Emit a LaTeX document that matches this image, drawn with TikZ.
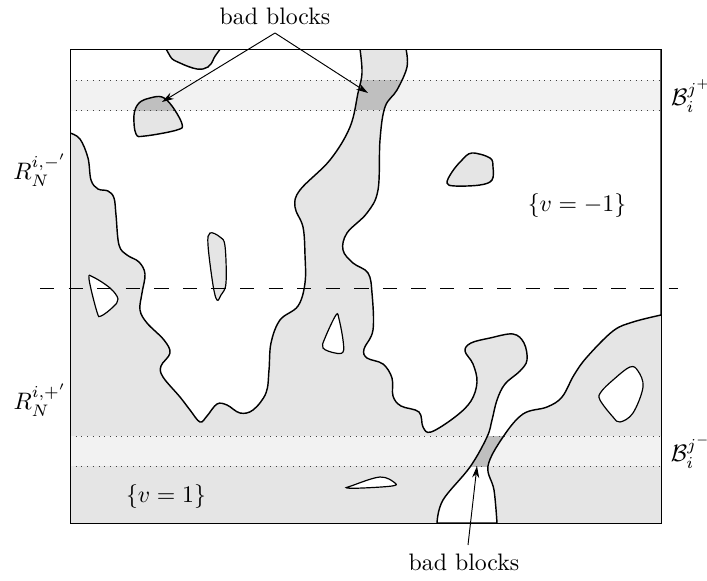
\documentclass[tikz,border=0pt]{standalone}
\usetikzlibrary{arrows.meta}
\definecolor{lg}{HTML}{E5E5E5}
\definecolor{bandc}{HTML}{F2F2F2}
\definecolor{badc}{HTML}{BFBFBF}
\begin{document}
\begin{tikzpicture}[x=0.42pt,y=-0.42pt,
  curve/.style={line width=0.6pt},
  sm/.style={smooth,tension=0.6},
  dotline/.style={black!75,line width=0.4pt,dotted},
  arr/.style={-{Stealth[length=5pt,width=3pt]},line width=0.4pt},
  lbl/.style={inner sep=1pt}]
\useasboundingbox (0,0) rectangle (707,580);
\begin{scope}
\clip (70,49) rectangle (661,523);
\fill[lg] (70,49) rectangle (661,523);
% white region W1
\fill[white,save path=\pWone] (70,49) -- (360,49) -- plot[sm] coordinates {(360,49) (362,73) (358,93) (350,127) (330,160) (300,190) (295,207) (303,227) (305,255) (305,283) (298,306) (280,320) (271,343) (269,370) (266,393) (253,410) (240,413) (227,405) (217,404) (207,416) (200,422) (190,410) (180,397) (163,377) (161,366) (170,353) (164,340) (147,323) (140,310) (142,293) (145,274) (139,262) (127,255) (119,245) (116,215) (114,198) (108,191) (98,189) (91,180) (88,158) (80,139) (70,133)} -- cycle;
% white region W2
\fill[white,save path=\pWtwo] (406,49) -- (661,49) -- (661,315) -- plot[sm] coordinates {(661,315) (633,322) (613,331) (587,357) (574,375) (562,397) (547,407) (523,414) (503,437) (488,466) (494,490) (497,523)} -- (437,523) -- plot[sm] coordinates {(437,523) (443,500) (470,467) (487,437) (492,420) (497,400) (505,384) (520,371) (527,360) (524,343) (513,334) (490,338) (471,343) (465,351) (473,364) (477,382) (471,401) (455,417) (431,432) (423,427) (419,412) (401,406) (393,396) (392,378) (383,364) (367,358) (364,349) (373,330) (372,293) (368,273) (353,263) (343,250) (347,233) (367,213) (378,190) (380,140) (385,107) (397,90) (407,67) (406,49)} -- cycle;
% gray islands
\fill[lg,save path=\pGa] plot[smooth cycle,tension=0.6] coordinates {(168,38) (170,56) (180,63) (197,69) (208,67) (214,58) (221,38)};
\fill[lg,save path=\pGb] plot[smooth cycle,tension=0.6] coordinates {(150,98) (162,97) (172,106) (182,124) (177,130) (145,136) (136,134) (134,115) (139,103)};
\fill[lg,save path=\pGc] plot[smooth cycle,tension=0.6] coordinates {(472,153) (490,158) (493,167) (492,180) (480,185) (455,186) (447,183) (452,172) (462,160)};
\fill[lg,save path=\pGd] plot[smooth cycle,tension=0.6] coordinates {(210,233) (220,237) (225,246) (226,283) (221,295) (217,300) (213,285) (208,245)};
% white holes
\fill[white,save path=\pHa] plot[smooth cycle,tension=0.6] coordinates {(89,279) (93,277) (110,288) (118,299) (113,307) (101,316) (97,312)};
\fill[white,save path=\pHb] plot[smooth cycle,tension=0.6] coordinates {(336,315) (339,319) (343,340) (343,352) (335,353) (323,348) (325,338)};
\fill[white,save path=\pHc] plot[smooth cycle,tension=0.6] coordinates {(630,367) (638,371) (643,387) (633,413) (620,422) (613,417) (600,400) (601,392) (613,380)};
\fill[white,save path=\pHd] plot[smooth cycle,tension=0.6] coordinates {(347,488) (351,486) (380,477) (395,483) (392,486) (363,488)};
% bands
\fill[bandc] (70,80) rectangle (661,110);
\fill[bandc] (70,436) rectangle (661,466);
% bad blocks
\fill[badc] (330,80) rectangle (420,110);
\begin{scope}
\clip (70,80) rectangle (661,110);
\fill[bandc,use path=\pWone];
\fill[bandc,use path=\pWtwo];
\fill[badc,use path=\pGb];
\end{scope}
\begin{scope}
\clip (460,436) rectangle (515,466);
\fill[badc,use path=\pWtwo];
\end{scope}
% dotted band limits
\draw[dotline] (70,80) -- (661,80);
\draw[dotline] (70,110) -- (661,110);
\draw[dotline] (70,436) -- (661,436);
\draw[dotline] (70,466) -- (661,466);
% outlines
\draw[curve,use path=\pWone];
\draw[curve,use path=\pWtwo];
\draw[curve,use path=\pGa];
\draw[curve,use path=\pGb];
\draw[curve,use path=\pGc];
\draw[line width=0.5pt,use path=\pGd];
\draw[line width=0.5pt,use path=\pHa];
\draw[line width=0.5pt,use path=\pHb];
\draw[line width=0.5pt,use path=\pHc];
\draw[line width=0.5pt,use path=\pHd];
\end{scope}
% frame
\draw[line width=0.4pt] (70,49) rectangle (661,523);
% dashed line
\coordinate (dl) at (40,288);
\coordinate (dr) at (678,288);
\draw[dash pattern=on 6pt off 6pt,line width=0.4pt] (dl) -- (dr);
% labels
\node[lbl] (bbt) at (275,16) {bad blocks};
\node[lbl] (bbb) at (464,562) {bad blocks};
\coordinate (apex) at (275,33);
\coordinate (tA) at (162,102);
\coordinate (tB) at (368,93);
\coordinate (bstart) at (468,545);
\coordinate (tC) at (477,466);
\draw[arr] (apex) -- (tA);
\draw[arr] (apex) -- (tB);
\draw[arr] (bstart) -- (tC);
\node[lbl] (rminus) at (40,170) {$R_N^{i,-'}$};
\node[lbl] (rplus) at (40,400) {$R_N^{i,+'}$};
\node[lbl] (bplus) at (691,96) {$\mathcal{B}_i^{j^+}$};
\node[lbl] (bminus) at (691,452) {$\mathcal{B}_i^{j^-}$};
\node[lbl] (vm) at (577,206) {$\{v=-1\}$};
\node[lbl] (vp) at (166,497) {$\{v=1\}$};
\end{tikzpicture}
\end{document}
